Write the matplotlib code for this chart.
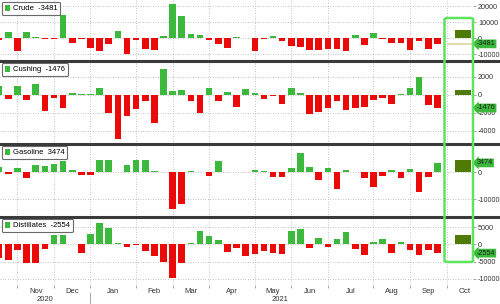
"""Weekly EIA inventory changes: crude, Cushing, gasoline, distillates (4 stacked panels)."""

import matplotlib.pyplot as plt
import matplotlib.transforms as mtransforms
import numpy as np
import pandas as pd
from matplotlib.lines import Line2D
from matplotlib.patches import FancyBboxPatch, Patch

plt.rcParams["font.family"] = ["Liberation Sans", "DejaVu Sans"]

# ---------------------------------------------------------------------------
# Data (thousand barrels, weekly change)
# ---------------------------------------------------------------------------
weeks = pd.date_range("2020-10-23", "2021-09-24", freq="W-FRI")

names = ["Crude", "Cushing", "Gasoline", "Distillates"]

crude = [-1000, 3800, -8100, 3800, 800, -750, -680, 14800, -3100, -560,
         -6000, -8100, -3300, 4500, -9800, -1000, -6500, -7100, 1300, 21300,
         13800, 2400, 1900, -900, -3500, -5900, 600, 100, -8000, -400,
         1300, -1700, -5100, -5200, -7400, -7600, -6700, -6900, -7900, 2100,
         -4100, 3600, -400, -3200, -3000, -7200, -1500, -6400, -3481]

cushing = [960, -460, 960, -580, 1200, -1800, -310, -1460, 250, 80,
           50, 770, -2080, -4900, -2390, -1540, -690, -3200, 2890, 420,
           500, -660, -2000, 730, -730, 310, -1350, 650, 230, -460,
           -150, -1040, 770, 200, -2200, -1930, -1500, -650, -1700, -1430,
           -1350, -540, -310, -1040, 60, 810, 1960, -1150, -1476]

gasoline = [1850, -740, 1480, -2200, 2600, 2300, 3100, 4300, 860, -1000,
            -1000, 4560, 4560, 100, 2700, 4500, 4500, 600, 150, -13600,
            -11700, 300, 100, -1400, 4300, 100, 100, 100, 700, 300,
            -1800, -1600, 1500, 7100, 1800, -2900, 1500, -6100, 1000, 100,
            -2200, -5300, -1200, 700, -2200, 1100, -7400, -1800, 3474]

distillates = [-3900, -4500, -1600, -5500, -5300, -1450, 2700, 2700, 50, -2400,
               3000, 6300, 4800, 400, -870, -100, -1800, -3500, -5100, -9800,
               -5500, 300, 3700, 2500, 1350, -2100, -1150, -3300, -2900, -1800,
               -2400, -2900, 3700, 4300, -960, 1700, -770, 1450, 3600, -1350,
               -3200, 770, 1600, -2600, 600, -1600, -3100, -1700, -2554]

# latest estimate bars (dark olive), drawn past the last week
estimates = [5000, 550, 4700, 2700]

y_ticks = [
    [20000, 10000, 0, -10000],
    [2000, 0, -2000, -4000],
    [0, -10000],
    [5000, 0, -5000, -10000],
]

# ---------------------------------------------------------------------------
# Style / layout
# ---------------------------------------------------------------------------
GREEN = "#3cb93c"
RED = "#ea0a0a"
OLIVE = "#4e7a05"
HILITE = "#5fe35f"
SEP = "#3a3a3a"
GRID = "#b0b0b0"
TXT = "#333333"
FS = 5.2

W, H = 500, 304
panel_px = [(0, 61), (61, 144), (144, 217), (217, 285)]
ylims = [(-14190, 23940), (-5510, 3790), (-16540, 10470), (-11760, 7890)]
XLIM = (0.09, 51.9)
EST_POS, EST_W = 50.8, 1.8


def main() -> None:
    series = [crude, cushing, gasoline, distillates]
    x = np.arange(len(weeks))

    # month gridlines at the first week of each month (axis extends into Oct)
    axis_weeks = pd.date_range(weeks[0], "2021-10-29", freq="W-FRI")
    months = axis_weeks.month
    grid_pos = [i for i in range(1, len(axis_weeks)) if months[i] != months[i - 1]]
    label_pos = [(a + b) / 2 for a, b in zip(grid_pos, grid_pos[1:] + [grid_pos[-1] + 4])]
    label_txt = [axis_weeks[i].strftime("%b") for i in grid_pos]

    fig = plt.figure(figsize=(W / 100, H / 100), dpi=100)
    axes = []
    for k, ((top, bot), yl) in enumerate(zip(panel_px, ylims)):
        ax = fig.add_axes([0, 1 - bot / H, 473 / W, (bot - top) / H])
        vals = series[k]
        colors = [GREEN if v >= 0 else RED for v in vals]
        ax.bar(x, vals, width=0.72, color=colors, linewidth=0, zorder=3)
        ax.bar(EST_POS, estimates[k], width=EST_W, color=OLIVE, linewidth=0, zorder=3)

        ax.set_xlim(*XLIM)
        ax.set_ylim(*yl)
        ax.set_yticks(y_ticks[k])
        ax.set_yticklabels([str(t) for t in y_ticks[k]])
        ax.set_xticks(grid_pos)
        ax.grid(True, which="major", linestyle=(0, (1, 2)), color=GRID, linewidth=0.6, zorder=0)
        ax.yaxis.tick_right()
        ax.tick_params(axis="y", length=2.5, width=0.6, color="#999999", pad=1.2,
                       labelsize=FS, labelcolor=TXT)
        for s in ax.spines.values():
            s.set_visible(False)
        ax.set_facecolor("white")

        # legend box
        label = f"{names[k]}  {vals[-1]}"
        leg = ax.legend(handles=[Patch(facecolor=GREEN, edgecolor="none")], labels=[label],
                        loc="upper left", fontsize=5.5, frameon=True, fancybox=True,
                        edgecolor="#444444", handlelength=0.7, handleheight=0.9,
                        handletextpad=0.4, borderpad=0.35, borderaxespad=0.25)
        leg.get_frame().set_linewidth(0.8)

        # last value box on the right axis
        trans = mtransforms.blended_transform_factory(ax.transAxes, ax.transData)
        ax.text(1.008, vals[-1], f"{vals[-1]}", transform=trans, ha="left", va="center",
                fontsize=FS, color="#1e1e1e", clip_on=False, zorder=10,
                bbox=dict(boxstyle="larrow,pad=0.12", fc=GREEN, ec="none"))
        axes.append(ax)

    # tan level line for the latest crude print
    axes[0].hlines(crude[-1], 49.05, XLIM[1], color="#e4d9b0", linewidth=1.4, zorder=2)

    for ax in axes[:3]:
        ax.tick_params(axis="x", length=0, labelbottom=False)

    ax4 = axes[3]
    ax4.set_xticks(grid_pos)
    ax4.set_xticklabels([])
    ax4.tick_params(axis="x", which="major", length=2, width=0.6, color="#999999")
    ax4.set_xticks(label_pos, minor=True)
    ax4.set_xticklabels(label_txt, minor=True)
    ax4.tick_params(axis="x", which="minor", length=0, pad=2.5, labelsize=5.5, labelcolor=TXT)

    # year labels and year divider
    ytrans = mtransforms.blended_transform_factory(ax4.transData, fig.transFigure)
    ax4.text(5.0, 1 - 299.5 / H, "2020", transform=ytrans, ha="center", va="center",
             fontsize=5.5, color=TXT)
    ax4.text(30.8, 1 - 299.5 / H, "2021", transform=ytrans, ha="center", va="center",
             fontsize=5.5, color=TXT)
    jan = grid_pos[label_txt.index("Jan")]
    ax4.add_line(Line2D([jan, jan], [1 - 293 / H, 0], transform=ytrans, color="#999999",
                        linewidth=0.6, clip_on=False))

    # thick panel separators
    for ypx in (61, 144, 217):
        fig.add_artist(Line2D([0, 1], [1 - ypx / H] * 2, transform=fig.transFigure,
                              color=SEP, linewidth=2.2, zorder=15))

    # green highlight around the latest estimate
    x0, x1, y0, y1 = 444.5, 473, 18, 262
    fig.add_artist(FancyBboxPatch((x0 / W, 1 - y1 / H), (x1 - x0) / W, (y1 - y0) / H,
                                  boxstyle="round,pad=0,rounding_size=0.005",
                                  transform=fig.transFigure, fill=False,
                                  edgecolor=HILITE, linewidth=1.8, zorder=20))

    fig.savefig("out.png", dpi=100)
    plt.close(fig)


if __name__ == "__main__":
    main()
